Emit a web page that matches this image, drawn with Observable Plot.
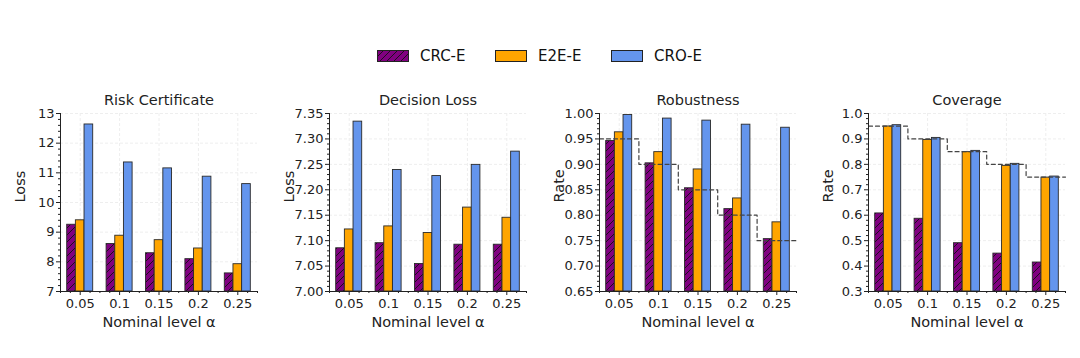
<!DOCTYPE html>
<html>
<head>
<meta charset="utf-8">
<script src="https://cdn.jsdelivr.net/npm/d3@7"></script>
<script src="https://cdn.jsdelivr.net/npm/@observablehq/plot@0.6"></script>
<style>
  body { margin: 0; background: #fff; font-family: "DejaVu Sans", sans-serif; }
  #root { position: relative; width: 1080px; height: 358px; overflow: hidden; }
  .panel { position: absolute; top: 85px; }
  .leg { position: absolute; top: 46px; display: flex; align-items: center; font-size: 15px; color: #111; height: 20px; }
  .leg svg { margin-right: 11px; }
</style>
</head>
<body>
<svg width="0" height="0" style="position:absolute">
  <defs>
    <pattern id="hatch" patternUnits="userSpaceOnUse" width="7" height="7">
      <rect width="7" height="7" fill="#800080"></rect>
      <path d="M-1,1 l2,-2 M0,7 l7,-7 M6,8 l2,-2" stroke="#111" stroke-width="0.9"></path>
    </pattern>
  </defs>
</svg>
<div id="root"></div>
<script>
const alphaLabels = ["0.05", "0.1", "0.15", "0.2", "0.25"];
const alphaValues = [0.05, 0.1, 0.15, 0.2, 0.25];
const seriesNames = ["CRC-E", "E2E-E", "CRO-E"];

const riskCRC = [9.25, 8.60, 8.29, 8.09, 7.61];
const riskE2E = [9.40, 8.88, 8.73, 8.45, 7.92];
const riskCRO = [12.63, 11.35, 11.15, 10.87, 10.62];

const decisionCRC = [7.085, 7.095, 7.054, 7.092, 7.092];
const decisionE2E = [7.122, 7.128, 7.115, 7.165, 7.145];
const decisionCRO = [7.334, 7.239, 7.227, 7.249, 7.275];

const robustCRC = [0.946, 0.902, 0.853, 0.812, 0.753];
const robustE2E = [0.963, 0.924, 0.890, 0.833, 0.786];
const robustCRO = [0.997, 0.990, 0.986, 0.978, 0.972];

const coverageCRC = [0.607, 0.586, 0.490, 0.449, 0.414];
const coverageE2E = [0.949, 0.896, 0.848, 0.794, 0.748];
const coverageCRO = [0.954, 0.904, 0.853, 0.802, 0.752];

const colors = ["url(#hatch)", "#FFA500", "#6495ED"];

const panels = [
  {title: "Risk Certificate", ylabel: "Loss", domain: [7, 13], step: 1, fmt: d3.format(".0f"), data: [riskCRC, riskE2E, riskCRO], target: false, left: 0},
  {title: "Decision Loss", ylabel: "Loss", domain: [7.0, 7.35], step: 0.05, fmt: d3.format(".2f"), data: [decisionCRC, decisionE2E, decisionCRO], target: false, left: 269},
  {title: "Robustness", ylabel: "Rate", domain: [0.65, 1.0], step: 0.05, fmt: d3.format(".2f"), data: [robustCRC, robustE2E, robustCRO], target: true, left: 539},
  {title: "Coverage", ylabel: "Rate", domain: [0.3, 1.0], step: 0.1, fmt: d3.format(".1f"), data: [coverageCRC, coverageE2E, coverageCRO], target: true, left: 808}
];

const root = document.getElementById("root");

// Legend
const legLefts = [377, 495, 611];
seriesNames.forEach((name, s) => {
  const div = document.createElement("div");
  div.className = "leg";
  div.style.left = legLefts[s] + "px";
  div.innerHTML = `<svg width="32" height="12"><rect x="0.5" y="0.5" width="31" height="11" fill="${colors[s]}" stroke="#222" stroke-width="1"></rect></svg><span>${name}</span>`;
  root.appendChild(div);
});

const barW = 0.22;

panels.forEach(p => {
  const [ymin, ymax] = p.domain;
  const nMajor = Math.round((ymax - ymin) / p.step);
  const majors = d3.range(nMajor + 1).map(k => +(ymin + k * p.step).toFixed(4));
  const minors = d3.range(nMajor * 5 + 1).filter(k => k % 5 !== 0).map(k => +(ymin + k * p.step / 5).toFixed(5));
  const xMinor = d3.range(0, 21).map(k => -0.5 + k * 0.25).filter(v => !Number.isInteger(v));

  const marks = [
    Plot.gridY(majors, {stroke: "#eeeeee", strokeOpacity: 1, strokeDasharray: "3,2"}),
    Plot.gridX([0, 1, 2, 3, 4], {stroke: "#eeeeee", strokeOpacity: 1, strokeDasharray: "3,2"})
  ];
  seriesNames.forEach((name, s) => {
    const rows = p.data[s].map((v, i) => ({i, v}));
    marks.push(Plot.rectY(rows, {
      x1: d => d.i + (s - 1) * barW - barW / 2,
      x2: d => d.i + (s - 1) * barW + barW / 2,
      y1: ymin,
      y2: "v",
      fill: colors[s],
      stroke: "#2a2a2a",
      strokeWidth: 0.9
    }));
  });
  if (p.target) {
    const pts = alphaValues.map((a, i) => ({x: i - 0.5, y: 1 - a}));
    pts.push({x: alphaValues.length - 0.5, y: 1 - alphaValues[alphaValues.length - 1]});
    marks.push(Plot.line(pts, {x: "x", y: "y", curve: "step-after", stroke: "#444", strokeWidth: 1.2, strokeDasharray: "4,3"}));
  }
  marks.push(
    Plot.ruleX([-0.5], {stroke: "#222", strokeWidth: 1}),
    Plot.ruleY([ymin], {stroke: "#222", strokeWidth: 1}),
    Plot.axisY({ticks: majors, tickFormat: p.fmt, tickSize: 4, tickPadding: 2, fontSize: 13, label: null, stroke: "#222", color: "#222"}),
    Plot.axisY({ticks: minors, tickSize: 2, text: null, label: null, stroke: "#222"}),
    Plot.axisX({ticks: [0, 1, 2, 3, 4], tickFormat: i => alphaLabels[i], tickSize: 4, tickPadding: 3, fontSize: 13, label: null, stroke: "#222", color: "#222"}),
    Plot.axisX({ticks: xMinor, tickSize: 2, text: null, label: null, stroke: "#222"}),
    Plot.text([p.title], {frameAnchor: "top", dy: -13, lineAnchor: "middle", fontSize: 14.5, fill: "#222"}),
    Plot.text([p.ylabel], {frameAnchor: "left", dx: -40, rotate: -90, lineAnchor: "middle", fontSize: 14.5, fill: "#222"}),
    Plot.text(["Nominal level α"], {frameAnchor: "bottom", dy: 31, lineAnchor: "middle", fontSize: 14.5, fill: "#222"})
  );

  const chart = Plot.plot({
    width: 270,
    height: 273,
    marginLeft: 60,
    marginRight: 13,
    marginTop: 28,
    marginBottom: 67,
    style: {fontFamily: "DejaVu Sans, sans-serif", background: "transparent", overflow: "visible"},
    x: {type: "linear", domain: [-0.5, 4.5], axis: null},
    y: {domain: p.domain, axis: null},
    marks
  });
  const wrap = document.createElement("div");
  wrap.className = "panel";
  wrap.style.left = p.left + "px";
  wrap.appendChild(chart);
  root.appendChild(wrap);
});
</script>
</body>
</html>
